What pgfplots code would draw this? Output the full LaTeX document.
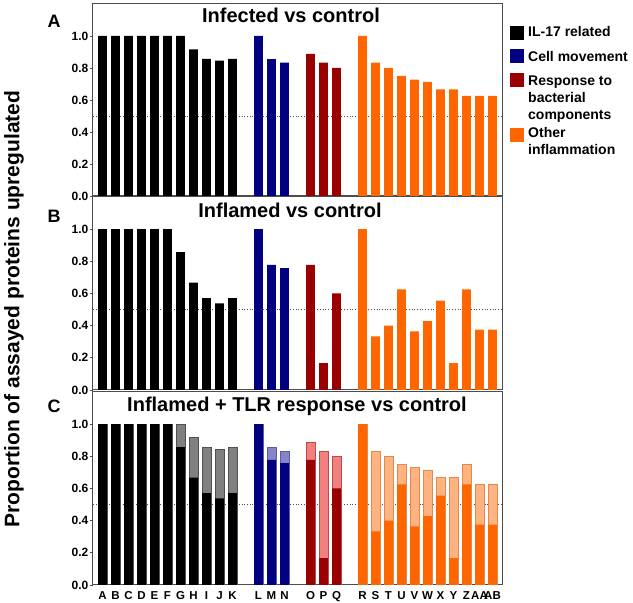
\documentclass[border=0pt]{standalone}
\usepackage{pgfplots}
\pgfplotsset{compat=1.18}
\usepackage{fontspec}
\setmainfont{Liberation Sans}
\definecolor{cil}{HTML}{000000}
\definecolor{ccm}{HTML}{000080}
\definecolor{cre}{HTML}{990000}
\definecolor{cot}{HTML}{FF6600}
\definecolor{lil}{HTML}{808080}
\definecolor{lcm}{HTML}{8585C8}
\definecolor{lre}{HTML}{F28080}
\definecolor{lot}{HTML}{FFB380}
\definecolor{dil}{HTML}{505050}
\definecolor{dcm}{HTML}{5A5AA8}
\definecolor{dre}{HTML}{C04848}
\definecolor{dot}{HTML}{E08A50}
\pgfplotsset{
  panel/.style={
    anchor=south west, width=409pt, scale only axis,
    xmin=-0.73, xmax=30.73, ymin=0, ymax=1.2,
    ytick={0,0.2,0.4,0.6,0.8,1.0},
    yticklabels={0.0,0.2,0.4,0.6,0.8,1.0},
    yticklabel style={font=\bfseries\fontsize{12}{12}\selectfont, inner sep=1.5pt},
    xticklabel style={font=\bfseries\fontsize{11.5}{11.5}\selectfont},
    axis line style={draw=black!70, line width=1pt},
    tick style={draw=black!70, line width=0.8pt},
    tick align=outside, ytick pos=left, major tick length=3pt,
    xtick=\empty,
  },
  mybar/.style={ybar, bar width=8.7pt, bar shift=0pt, draw=none},
  refline/.style={dash pattern=on 0.7pt off 2pt, draw=black!70, line width=0.7pt, forget plot},
}
\begin{document}
\begin{tikzpicture}
\useasboundingbox (0pt,0pt) rectangle (633pt,603pt);
% ---------------- Panel A
\begin{axis}[panel, at={(93pt,407pt)}, height=192pt]
\addplot[refline] coordinates {(-0.73,0.5) (30.73,0.5)};
\addplot[mybar, fill=cil] coordinates {(0,1)(1,1)(2,1)(3,1)(4,1)(5,1)(6,1)(7,0.917)(8,0.857)(9,0.846)(10,0.857)};
\addplot[mybar, fill=ccm] coordinates {(12,1)(13,0.855)(14,0.833)};
\addplot[mybar, fill=cre] coordinates {(16,0.889)(17,0.833)(18,0.80)};
\addplot[mybar, fill=cot] coordinates {(20,1)(21,0.833)(22,0.80)(23,0.75)(24,0.727)(25,0.714)(26,0.667)(27,0.667)(28,0.625)(29,0.625)(30,0.625)};
\end{axis}
% ---------------- Panel B
\begin{axis}[panel, at={(93pt,213pt)}, height=193pt]
\addplot[refline] coordinates {(-0.73,0.5) (30.73,0.5)};
\addplot[mybar, fill=cil] coordinates {(0,1)(1,1)(2,1)(3,1)(4,1)(5,1)(6,0.857)(7,0.667)(8,0.571)(9,0.538)(10,0.571)};
\addplot[mybar, fill=ccm] coordinates {(12,1)(13,0.778)(14,0.758)};
\addplot[mybar, fill=cre] coordinates {(16,0.778)(17,0.167)(18,0.60)};
\addplot[mybar, fill=cot] coordinates {(20,1)(21,0.333)(22,0.40)(23,0.625)(24,0.364)(25,0.429)(26,0.556)(27,0.167)(28,0.625)(29,0.375)(30,0.375)};
\end{axis}
% ---------------- Panel C
\begin{axis}[panel, at={(93pt,18pt)}, height=193pt,
  xtick={0,1,2,3,4,5,6,7,8,9,10,12,13,14,16,17,18,20,21,22,23,24,25,26,27,28,29,30},
  xticklabels={A,B,C,D,E,F,G,H,I,J,K,L,M,N,O,P,Q,R,S,T,U,V,W,X,Y,Z,AA,AB},
  xtick style={draw=none}]
\addplot[refline] coordinates {(-0.73,0.5) (30.73,0.5)};
\addplot[mybar, fill=lil, draw=dil, line width=0.6pt] coordinates {(0,1)(1,1)(2,1)(3,1)(4,1)(5,1)(6,1)(7,0.917)(8,0.857)(9,0.844)(10,0.857)};
\addplot[mybar, fill=lcm, draw=dcm, line width=0.6pt] coordinates {(12,1)(13,0.854)(14,0.829)};
\addplot[mybar, fill=lre, draw=dre, line width=0.6pt] coordinates {(16,0.889)(17,0.833)(18,0.80)};
\addplot[mybar, fill=lot, draw=dot, line width=0.6pt] coordinates {(20,1)(21,0.833)(22,0.80)(23,0.75)(24,0.729)(25,0.714)(26,0.667)(27,0.667)(28,0.75)(29,0.625)(30,0.625)};
\addplot[mybar, fill=cil] coordinates {(0,1)(1,1)(2,1)(3,1)(4,1)(5,1)(6,0.857)(7,0.667)(8,0.571)(9,0.538)(10,0.571)};
\addplot[mybar, fill=ccm] coordinates {(12,1)(13,0.778)(14,0.758)};
\addplot[mybar, fill=cre] coordinates {(16,0.778)(17,0.167)(18,0.60)};
\addplot[mybar, fill=cot] coordinates {(20,1)(21,0.333)(22,0.40)(23,0.625)(24,0.364)(25,0.429)(26,0.556)(27,0.167)(28,0.625)(29,0.375)(30,0.375)};
\end{axis}
% ---------------- titles and panel letters
\node[anchor=base, font=\bfseries\fontsize{20}{20}\selectfont] at (291pt,580pt) {Infected vs control};
\node[anchor=base, font=\bfseries\fontsize{20}{20}\selectfont] at (290pt,385pt) {Inflamed vs control};
\node[anchor=base, font=\bfseries\fontsize{20}{20}\selectfont] at (297pt,191pt) {Inflamed + TLR response vs control};
\node[anchor=base, font=\bfseries\fontsize{18}{18}\selectfont] at (54pt,575pt) {A};
\node[anchor=base, font=\bfseries\fontsize{18}{18}\selectfont] at (54pt,380pt) {B};
\node[anchor=base, font=\bfseries\fontsize{18}{18}\selectfont] at (54pt,190pt) {C};
\node[rotate=90, font=\bfseries\fontsize{21}{21}\selectfont] at (14pt,294pt) {Proportion of assayed proteins upregulated};
% ---------------- legend
\fill[cil] (510pt,563pt) rectangle (524pt,577pt);
\fill[ccm] (510pt,540pt) rectangle (524pt,554pt);
\fill[cre] (510pt,516pt) rectangle (524pt,530pt);
\fill[cot] (510pt,461pt) rectangle (524pt,475pt);
\begin{scope}[every node/.style={anchor=base west, inner sep=0pt, font=\bfseries\fontsize{14}{14}\selectfont}]
\node at (528pt,566pt) {IL-17 related};
\node at (528pt,541pt) {Cell movement};
\node at (528pt,517pt) {Response to};
\node at (528pt,500pt) {bacterial};
\node at (528pt,483pt) {components};
\node at (528pt,465pt) {Other};
\node at (528pt,448pt) {inflammation};
\end{scope}
\end{tikzpicture}
\end{document}
